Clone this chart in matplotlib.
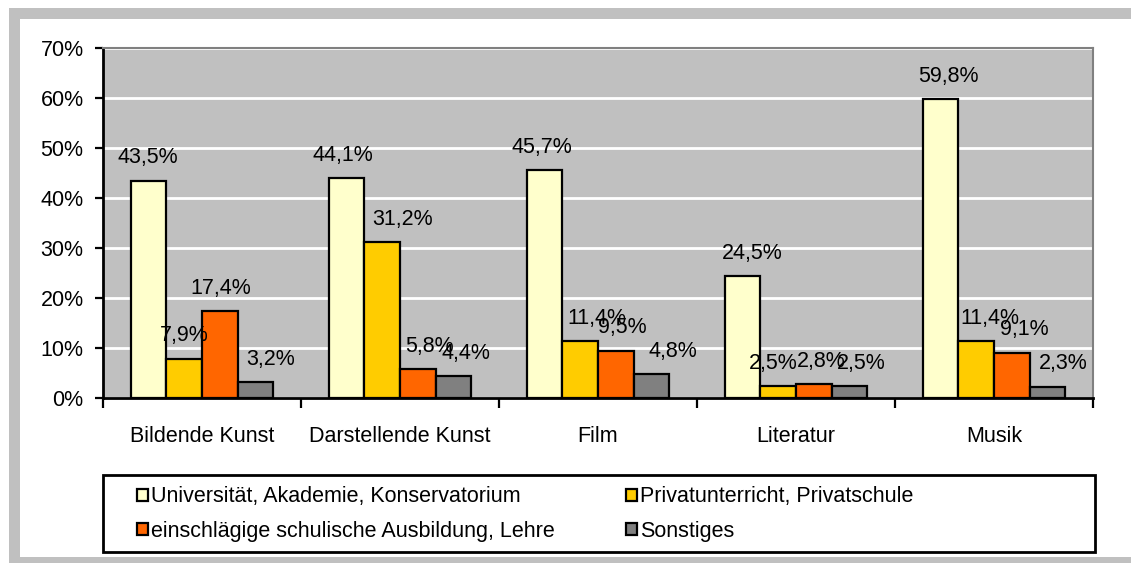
import numpy as np
import matplotlib
matplotlib.use("Agg")
import matplotlib.pyplot as plt
from matplotlib.patches import Rectangle, Patch

plt.rcParams['font.family'] = ['Liberation Sans', 'DejaVu Sans']
plt.rcParams['font.size'] = 15.5

categories = ["Bildende Kunst", "Darstellende Kunst", "Film", "Literatur", "Musik"]
series_names = ["Universität, Akademie, Konservatorium",
                "Privatunterricht, Privatschule",
                "einschlägige schulische Ausbildung, Lehre",
                "Sonstiges"]
universitaet = [43.5, 44.1, 45.7, 24.5, 59.8]
privat = [7.9, 31.2, 11.4, 2.5, 11.4]
schulisch = [17.4, 5.8, 9.5, 2.8, 9.1]
sonstiges = [3.2, 4.4, 4.8, 2.5, 2.3]
yticks = [0, 10, 20, 30, 40, 50, 60, 70]

colors = ["#FFFFCC", "#FFCC00", "#FF6600", "#808080"]
# horizontal nudge of the value labels (pixels), like in the excel original
label_dx = [[-1, -4, -3, 10, 8],
            [0, 20, 17, -5, 14],
            [1, 12, 6, 7, 12],
            [15, 12, 21, 12, 16]]

W, H = 1131, 563
fig = plt.figure(figsize=(W / 100, H / 100), dpi=100)
fig.patch.set_facecolor("white")

# grey frame around the chart (cut off at the right)
gray = "#C0C0C0"
for (x0, y0, x1, y1) in [(9, 8, W, 19), (9, 8, 20, H), (9, 557, W, H)]:
    fig.patches.append(Rectangle((x0 / W, 1 - y1 / H), (x1 - x0) / W, (y1 - y0) / H,
                                 transform=fig.transFigure, facecolor=gray,
                                 edgecolor="none", zorder=0))

ax = fig.add_axes([103 / W, 1 - 398 / H, (1093 - 103) / W, (398 - 48) / H])
ax.set_facecolor(gray)

x = np.arange(len(categories))
bw = 0.18
data = [universitaet, privat, schulisch, sonstiges]
for i, vals in enumerate(data):
    pos = x + (i - 1.5) * bw
    ax.bar(pos, vals, bw, color=colors[i], edgecolor="black", linewidth=1.6, zorder=3)
    for j, v in enumerate(vals):
        ax.annotate(("%.1f%%" % v).replace(".", ","), (pos[j], v),
                    xytext=(label_dx[i][j], 17), textcoords="offset pixels",
                    ha="center", va="baseline", zorder=4)

ax.set_xlim(-0.5, len(categories) - 0.5)
ax.set_ylim(0, 70)
ax.set_yticks(yticks)
ax.set_yticklabels(["%d%%" % t for t in yticks])
ax.yaxis.grid(True, color="white", linewidth=2, zorder=1)
ax.set_axisbelow(True)

ax.set_xticks(np.arange(-0.5, len(categories)), minor=False)
ax.set_xticklabels([""] * (len(categories) + 1))
ax.set_xticks(x, minor=True)
ax.set_xticklabels(categories, minor=True)
ax.tick_params(axis="x", which="major", length=7, width=1.6, direction="out")
ax.tick_params(axis="x", which="minor", length=0, pad=20)
ax.tick_params(axis="y", length=6, width=1.6, direction="out", pad=8)

for s in ["left", "bottom"]:
    ax.spines[s].set_color("black")
    ax.spines[s].set_linewidth(2)
for s in ["top", "right"]:
    ax.spines[s].set_color("#808080")
    ax.spines[s].set_linewidth(1.5)

# legend box
fig.patches.append(Rectangle((103 / W, 1 - 552 / H), (1095 - 103) / W, (552 - 475) / H,
                             transform=fig.transFigure, facecolor="white",
                             edgecolor="black", linewidth=2, zorder=1))
handles = [Patch(facecolor=c, edgecolor="black", linewidth=1.6) for c in colors]
order = [0, 2, 1, 3]
fig.legend([handles[k] for k in order], [series_names[k] for k in order],
           ncol=2, loc="upper left", bbox_to_anchor=(118 / W, 1 - 467 / H),
           frameon=False, handlelength=0.5, handleheight=0.5, handletextpad=0.15,
           columnspacing=3.3, labelspacing=0.62, borderpad=0.4)

fig.savefig("out.png", dpi=100)
